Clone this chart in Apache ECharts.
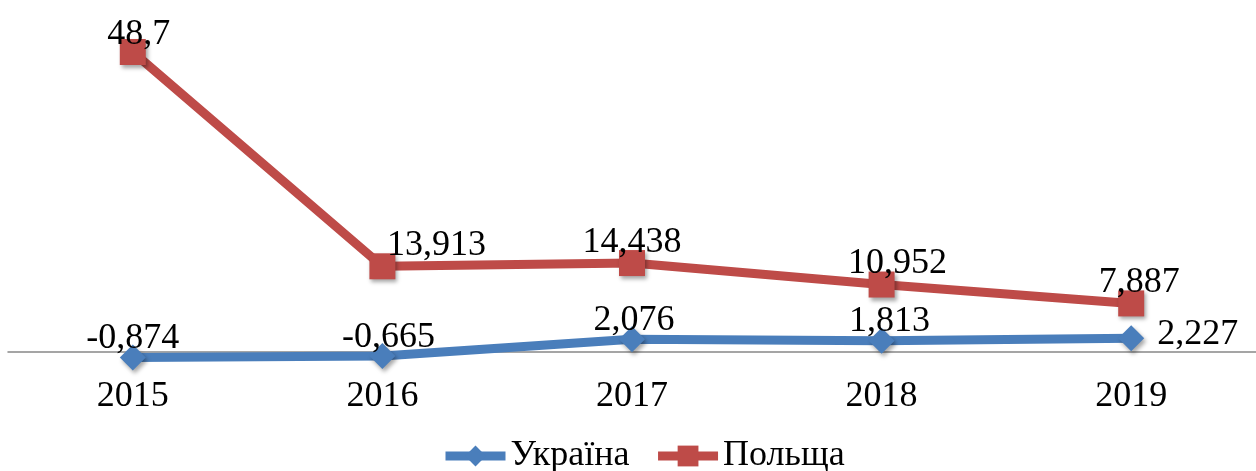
<!DOCTYPE html>
<html>
<head>
<meta charset="utf-8">
<script src="https://cdn.jsdelivr.net/npm/echarts@6/dist/echarts.min.js"></script>
<style>
  html, body { margin: 0; padding: 0; background: #fff; }
  #chart { width: 1256px; height: 471px; }
</style>
</head>
<body>
<div id="chart"></div>
<script>
// data
var years = ['2015', '2016', '2017', '2018', '2019'];
var ukraine = [-0.874, -0.665, 2.076, 1.813, 2.227];
var poland = [48.7, 13.913, 14.438, 10.952, 7.887];
var seriesNames = ['Україна', 'Польща'];

// label offsets (px) so the numbers sit where the original put them
var ukraineOffsets = [[0, 0], [6, 0], [2, 0], [8, 0], [11, -4]];
var polandOffsets = [[6, 4], [54, 0], [0, 0], [16, 0], [8, 0]];

var font = "'Liberation Serif', 'Times New Roman', serif";

function fmt(v) {
    return String(v).replace('.', ',');
}

function withLabels(values, offsets, lastRight) {
    return values.map(function (v, i) {
        var label = { offset: offsets[i] };
        if (lastRight && i === values.length - 1) {
            label.position = 'right';
            label.distance = 2;
        }
        return { value: v, label: label };
    });
}

var chart = echarts.init(document.getElementById('chart'));

var option = {
    animation: false,
    backgroundColor: '#fff',
    grid: { left: 8, right: -11, top: 44, bottom: 88.2 },
    legend: {
        data: seriesNames,
        bottom: -8,
        left: 436,
        itemWidth: 60,
        itemHeight: 26,
        itemGap: 24,
        lineStyle: { width: 9 },
        textStyle: { fontFamily: font, fontSize: 36, color: '#000' }
    },
    xAxis: {
        type: 'category',
        data: years,
        boundaryGap: true,
        axisLine: { onZero: true, lineStyle: { color: '#888', width: 1.5 } },
        axisTick: { show: false },
        axisLabel: { margin: -4, fontFamily: font, fontSize: 36, color: '#000' }
    },
    yAxis: {
        type: 'value',
        min: -5,
        max: 50,
        show: false,
        splitLine: { show: false }
    },
    series: [
        {
            name: seriesNames[0],
            type: 'line',
            data: withLabels(ukraine, ukraineOffsets, true),
            symbol: 'diamond',
            symbolSize: 26,
            lineStyle: { color: '#4a7ebb', width: 9 },
            itemStyle: {
                color: '#4a7ebb',
                shadowColor: 'rgba(0,0,0,0.35)', shadowBlur: 4, shadowOffsetX: 2, shadowOffsetY: 3
            },
            label: {
                show: true, position: 'top', distance: -12,
                fontFamily: font, fontSize: 36, color: '#000',
                formatter: function (p) { return fmt(p.value); }
            },
            z: 3
        },
        {
            name: seriesNames[1],
            type: 'line',
            data: withLabels(poland, polandOffsets, false),
            symbol: 'rect',
            symbolSize: 26,
            lineStyle: { color: '#be4b48', width: 9 },
            itemStyle: {
                color: '#be4b48',
                shadowColor: 'rgba(0,0,0,0.35)', shadowBlur: 4, shadowOffsetX: 2, shadowOffsetY: 3
            },
            label: {
                show: true, position: 'top', distance: -10,
                fontFamily: font, fontSize: 36, color: '#000',
                formatter: function (p) { return fmt(p.value); }
            },
            z: 2
        }
    ]
};

chart.setOption(option);
</script>
</body>
</html>
